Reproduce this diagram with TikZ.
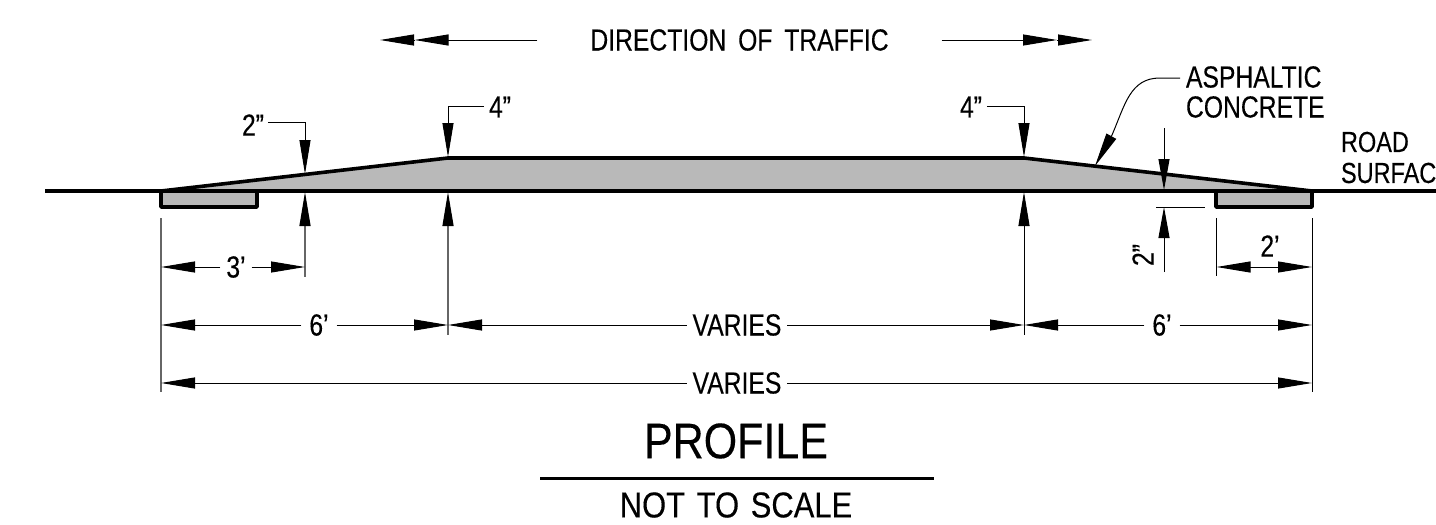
\documentclass[tikz,border=0pt]{standalone}
\usepackage{fontspec}
\setmainfont[FakeStretch=0.81,FakeBold=0.25]{Liberation Sans}
\newfontfamily\titlefont[FakeStretch=0.86,FakeBold=0.25]{Liberation Sans}
\usetikzlibrary{arrows.meta}
\definecolor{fillgray}{HTML}{B9B9B9}
\tikzset{
  x=1pt,y=-1pt,
  tip/.tip={Triangle[length=34pt,width=11pt,sep=0pt,color=black]},
  shorttip/.tip={Triangle[length=31pt,width=11pt,sep=0pt,color=black]},
  dim/.style={line width=1pt,draw=black},
  ext/.style={line width=1.2pt,draw=black!60},
  extr/.style={line width=1pt,draw=black},
  heavy/.style={line width=3.6pt,line join=miter,draw=black},
  slab/.style={fill=fillgray,draw=none},
  lab/.style={font=\fontsize{30.5}{30.5}\selectfont,inner sep=0pt,outer sep=0pt},
  labnarrow/.style={font=\fontsize{29}{29}\selectfont,inner sep=0pt,outer sep=0pt},
  gaplab/.style={lab,inner xsep=6pt},
  big/.style={font=\titlefont\fontsize{50}{50}\selectfont,inner sep=0pt},
  mid/.style={font=\titlefont\fontsize{36}{36}\selectfont,inner sep=0pt},
}
\begin{document}
\begin{tikzpicture}
\clip (0,0) rectangle (1436,525);
\useasboundingbox (0,0) rectangle (1436,525);
% key points
\coordinate (A) at (161,191);
\coordinate (B) at (448,158);
\coordinate (C) at (1024,158);
\coordinate (D) at (1312,191);
\coordinate (RL) at (45,191);
\coordinate (RR) at (1436,191);
% slab
\path[slab] (A) -- (B) -- (C) -- (D) -- cycle;
\path[slab] (161,191) rectangle (257,207);
\path[slab] (1216,191) rectangle (1312,207);
\draw[heavy] (RL) -- (RR);
\draw[heavy] (A) -- (B) -- (C) -- (D);
\draw[heavy,line join=round] (161,191) |- (257,207) -- (257,191);
\draw[heavy,line join=round] (1216,191) |- (1312,207) -- (1312,191);

% direction of traffic
\node[lab,inner xsep=53pt] (dir) at (739.5,40) {DIRECTION\hspace{5pt} OF\hspace{5pt} TRAFFIC};
\coordinate (dl2) at (414.5,40);
\coordinate (dl1) at (380,40);
\coordinate (dr2) at (1057,40);
\coordinate (dr1) at (1092,40);
\draw[dim,-{tip}] (dir) -- (dl2);
\draw[dim,-{tip}] (dl2) -- (dl1);
\draw[dim,-{tip}] (dir) -- (dr2);
\draw[dim,-{tip}] (dr2) -- (dr1);

% extension lines
\coordinate (e1a) at (161,218); \coordinate (e1b) at (161,392);
\coordinate (e2a) at (305,192); \coordinate (e2b) at (305,277);
\coordinate (e3a) at (448,192); \coordinate (e3b) at (448,335);
\coordinate (e4a) at (1024,192); \coordinate (e4b) at (1024,335);
\coordinate (e5a) at (1312,218); \coordinate (e5b) at (1312,392);
\coordinate (e6a) at (1216.5,218); \coordinate (e6b) at (1216.5,276);
\draw[ext] (e1a) -- (e1b);
\draw[ext,{tip}-] (e2a) -- (e2b);
\draw[ext,{tip}-] (e3a) -- (e3b);
\draw[extr,{tip}-] (e4a) -- (e4b);
\draw[extr] (e5a) -- (e5b);
\draw[extr] (e6a) -- (e6b);

% 3'
\node[gaplab] (t3) at (236,267) {3’};
\coordinate (p3l) at (161,267); \coordinate (p3r) at (305,267);
\draw[dim,-{tip}] (t3) -- (p3l);
\draw[dim,-{tip}] (t3) -- (p3r);
% 6' left
\node[gaplab,inner xsep=8pt] (t6l) at (319,325) {6’};
\coordinate (p6a) at (161,325); \coordinate (p6b) at (448,325);
\draw[dim,-{tip}] (t6l) -- (p6a);
\draw[dim,-{tip}] (t6l) -- (p6b);
% varies mid
\node[gaplab] (tv1) at (737,325) {VARIES};
\coordinate (p6c) at (1024,325);
\draw[dim,-{tip}] (tv1) -- (p6b);
\draw[dim,-{tip}] (tv1) -- (p6c);
% 6' right
\node[gaplab,inner xsep=8pt] (t6r) at (1162,325) {6’};
\coordinate (p6d) at (1312,325);
\draw[dim,-{tip}] (t6r) -- (p6c);
\draw[dim,-{tip}] (t6r) -- (p6d);
% varies overall
\node[gaplab] (tv2) at (737,383) {VARIES};
\coordinate (pva) at (161,383); \coordinate (pvb) at (1312,383);
\draw[dim,-{tip}] (tv2) -- (pva);
\draw[dim,-{tip}] (tv2) -- (pvb);
% 2' right
\node[lab] (t2r) at (1270,246) {2’};
\coordinate (p2a) at (1216.5,267); \coordinate (p2b) at (1312,267);
\draw[dim,{tip}-{tip}] (p2a) -- (p2b);

% 2" left top
\node[lab,inner xsep=4pt] (t2l) at (253,125) {2”};
\coordinate (k2) at (305,122); \coordinate (a2) at (305,174);
\draw[dim,-{tip}] (t2l.east |- k2) -- (k2) -- (a2);
% 4" left top
\node[lab,inner xsep=5pt] (t4l) at (500,107) {4”};
\coordinate (k4) at (448,106); \coordinate (a4) at (448,157);
\draw[dim,-{tip}] (t4l.west |- k4) -- (k4) -- (a4);
% 4" right top
\node[lab,inner xsep=5pt] (t4r) at (971,107) {4”};
\coordinate (k4r) at (1024,106); \coordinate (a4r) at (1024,157);
\draw[dim,-{tip}] (t4r.east |- k4r) -- (k4r) -- (a4r);

% right 2"
\coordinate (q1) at (1164,128); \coordinate (q2) at (1164,190);
\coordinate (q3) at (1164,272); \coordinate (q4) at (1164,207);
\coordinate (q5) at (1156,207); \coordinate (q6) at (1205,207);
\draw[dim,-{shorttip}] (q1) -- (q2);
\draw[dim,-{shorttip}] (q3) -- (q4);
\draw[dim] (q5) -- (q6);
\node[lab,rotate=90] (t2v) at (1143,255) {2”};

% asphaltic
\node[lab,anchor=west] (ta1) at (1186,77) {ASPHALTIC};
\node[lab,anchor=west] (ta2) at (1186,107) {CONCRETE};
\coordinate (as0) at (1180,78);
\coordinate (ast) at (1095,166);
\draw[dim,-{tip}] (as0) -- (1160,78) .. controls (1130,78) and (1125,105) .. (1112,135) -- (ast);

% road surface
\node[labnarrow,anchor=west] (tr1) at (1341,142) {ROAD};
\node[labnarrow,anchor=west] (tr2) at (1341,173) {SURFAC};

% title
\node[big] (tp) at (736,441) {PROFILE};
\coordinate (ul) at (540,478); \coordinate (ur) at (934,478);
\draw[line width=3pt] (ul) -- (ur);
\node[mid] (tn) at (736,505) {NOT\hspace{3pt} TO\hspace{3pt} SCALE};
\end{tikzpicture}
\end{document}
